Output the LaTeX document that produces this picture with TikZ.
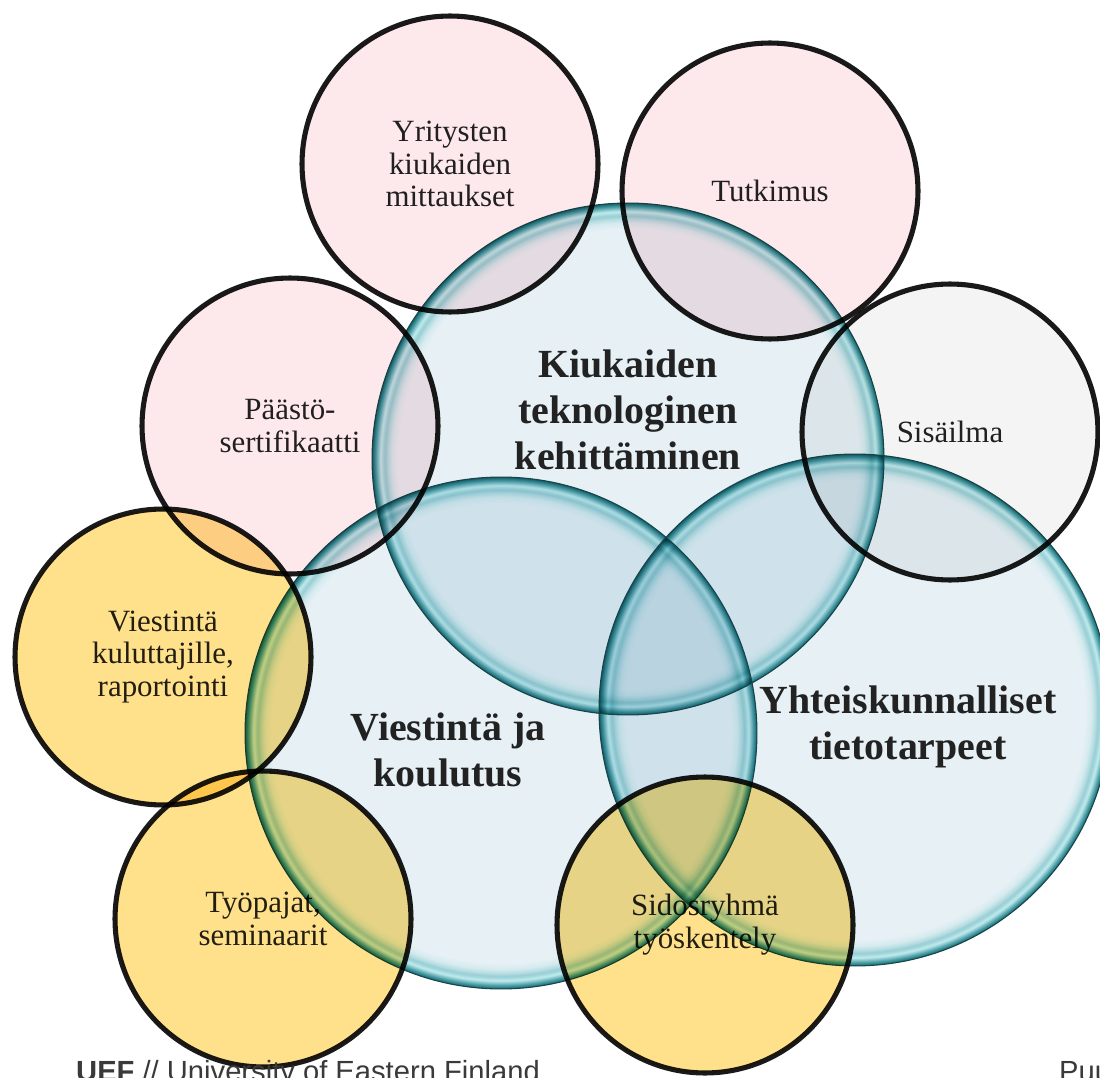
\documentclass[tikz,border=0pt]{standalone}
\usepackage{fontspec}
\setmainfont{Liberation Serif}
\newfontfamily\footfont{Liberation Sans}

\definecolor{glassin}{HTML}{E6F0F5}
\definecolor{rima}{HTML}{1B5F66}
\definecolor{rimb}{HTML}{2E868E}
\definecolor{rimc}{HTML}{55A4AB}
\definecolor{rimd}{HTML}{88C6CC}
\definecolor{rime}{HTML}{C2ECEF}
\definecolor{rimf}{HTML}{A5D8DD}
\definecolor{rimg}{HTML}{9ACFD5}
\definecolor{rimh}{HTML}{B8DEE3}
\definecolor{rimi}{HTML}{D6EBEF}
\definecolor{glassline}{HTML}{17454A}
\definecolor{pinkfill}{HTML}{FDE9EC}
\definecolor{grayfill}{HTML}{F4F4F4}
\definecolor{yellowfill}{HTML}{FFE18C}
\definecolor{ringblack}{HTML}{1A1A1A}
\definecolor{labeltext}{HTML}{222222}
\definecolor{footgray}{HTML}{3A3A3A}

\pgfdeclareradialshading{glass}{\pgfpoint{0bp}{0bp}}{%
  color(0bp)=(glassin); color(22.46bp)=(glassin); color(23.05bp)=(rimi);
  color(23.44bp)=(rimh); color(23.73bp)=(rimg); color(23.93bp)=(rimf);
  color(24.17bp)=(rime); color(24.41bp)=(rimd); color(24.61bp)=(rimc);
  color(24.8bp)=(rimb); color(25bp)=(rima); color(50bp)=(rima)}

\tikzset{
  glassbubble/.style={circle, minimum size=10.24cm, inner sep=0pt,
    draw=glassline, line width=0.6pt},
  bubble/.style={circle, minimum size=5.92cm, inner sep=0pt, draw=ringblack,
    line width=2.9pt, blend mode=multiply, align=center, text=labeltext,
    font=\fontsize{17.6}{18.7}\selectfont},
  biglabel/.style={align=center, text=labeltext,
    font=\fontsize{22.7}{26}\selectfont\bfseries},
  footer/.style={anchor=base west, text=footgray,
    font=\footfont\fontsize{16.6}{18}\selectfont}
}

\begin{document}
\begin{tikzpicture}[x=0.02cm, y=-0.02cm]
	\useasboundingbox (0,0) rectangle (1100,1078);

	% big glass circles
	\coordinate (kiuk) at (628,459);
	\coordinate (viest) at (501,733);
	\coordinate (yht) at (855,710);
	\foreach \n in {kiuk,viest,yht}
		\shade[shading=glass, blend mode=multiply] (\n) circle (256);
	\node at (kiuk) [glassbubble] (kiukring) {};
	\node at (viest) [glassbubble] (viestring) {};
	\node at (yht) [glassbubble] (yhtring) {};

	% small circles
	\node at (450,164) [bubble, fill=pinkfill] (yrit) {Yritysten\\kiukaiden\\mittaukset};
	\node at (770,191) [bubble, fill=pinkfill] (tutk) {Tutkimus};
	\node at (290,426) [bubble, fill=pinkfill] (paasto) {Päästö-\\sertifikaatti};
	\node at (950,432) [bubble, fill=grayfill] (sisa) {Sisäilma};
	\node at (163,657) [bubble, fill=yellowfill] (kulut) {Viestintä\\kuluttajille,\\raportointi};
	\node at (263,919) [bubble, fill=yellowfill] (tyopa) {Työpajat,\\seminaarit};
	\node at (705,925) [bubble, fill=yellowfill] (sidos) {Sidosryhmä\\työskentely};

	% labels of the big circles
	\node at (628,410) [biglabel] (kiuklbl) {Kiukaiden\\teknologinen\\kehittäminen};
	\node at (448,750) [biglabel] (viestlbl) {Viestintä ja\\koulutus};
	\node at (908,727) [biglabel] (yhtlbl) {Yhteiskunnalliset\\tietotarpeet};

	% footer
	\node at (70,1081) [footer] (uef) {\textbf{UEF} // University of Eastern Finland};
	\node at (1053,1081) [footer] (puu) {Puu};
\end{tikzpicture}
\end{document}
